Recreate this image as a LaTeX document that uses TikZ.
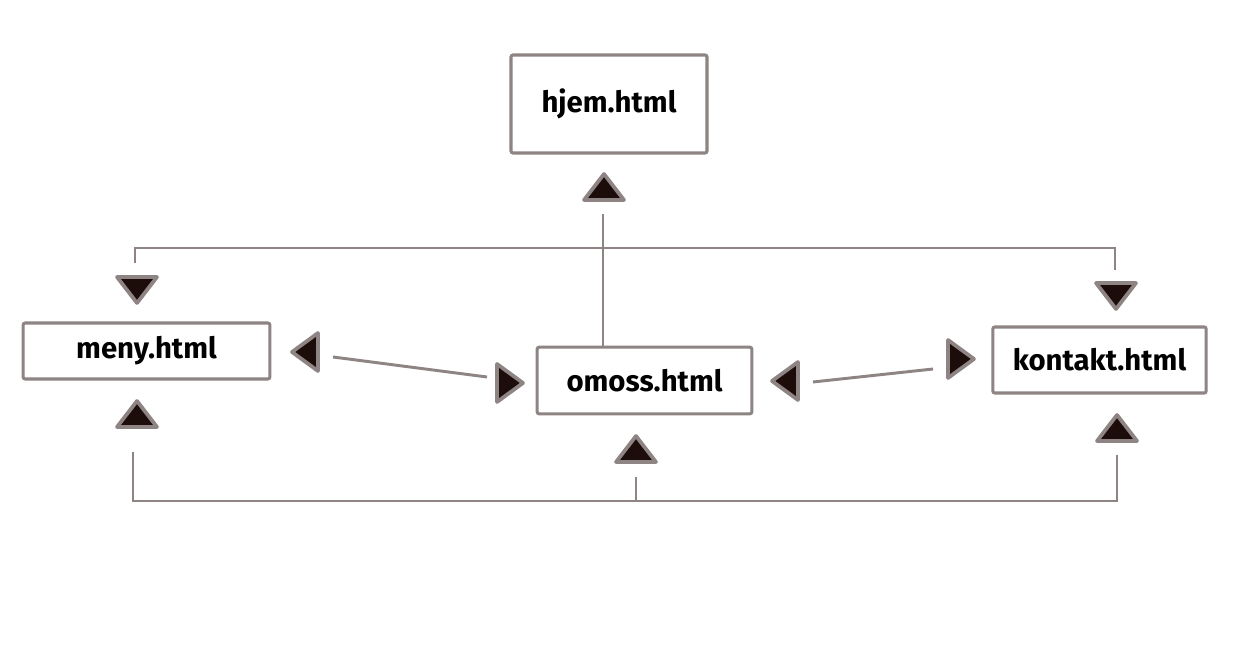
\documentclass[tikz,border=0pt]{standalone}
\usepackage{fontspec}
\setmainfont{Fira Sans}
\definecolor{edge}{HTML}{8E8484}
\definecolor{tipfill}{HTML}{1C0C0A}
\tikzset{
  filebox/.style={draw=edge, line width=2.3pt, rounded corners=1.5pt, fill=white, inner sep=0pt,
    font=\fontsize{22}{26}\selectfont\bfseries},
  wire/.style={draw=edge, line width=2.2pt},
  tri/.style={draw=edge, fill=tipfill, line width=2.8pt, line join=round},
  uptri/.pic={\path[tri] (-20,13) -- (0,-13) -- (20,13) -- cycle;},
  downtri/.pic={\path[tri] (-20,-13) -- (0,13) -- (20,-13) -- cycle;},
  lefttri/.pic={\path[tri] (13,-19) -- (-13,0) -- (13,19) -- cycle;},
  righttri/.pic={\path[tri] (-13,-19) -- (13,0) -- (-13,19) -- cycle;},
}
\begin{document}
\begin{tikzpicture}[x=0.75pt,y=-0.75pt]
\path[use as bounding box, fill=white] (0,0) rectangle (1247,648);
% boxes (sizes in pt = px * 0.75)
\node[filebox, minimum width=147pt, minimum height=73.5pt] (hjem) at (609,104) {hjem.html};
\node[filebox, minimum width=185pt, minimum height=42pt] (meny) at (146.5,351) {meny.html};
\node[filebox, minimum width=161pt, minimum height=50pt] (omoss) at (644.5,380.5) {omoss.html};
\node[filebox, minimum width=160pt, minimum height=49.5pt] (kontakt) at (1099.5,360) {kontakt.html};
% arrowheads
\pic at (604,187) {uptri};
\pic at (137,290) {downtri};
\pic at (1116,296) {downtri};
\pic at (137,414) {uptri};
\pic at (636,449) {uptri};
\pic at (1117,428) {uptri};
\pic at (305,352) {lefttri};
\pic at (510,383) {righttri};
\pic at (785,381) {lefttri};
\pic at (961,359) {righttri};
% connector end points
\coordinate (hA) at (603,214);
\coordinate (mT) at (135,263);
\coordinate (kT) at (1115,270);
\coordinate (mB) at (133,452);
\coordinate (oB) at (636,477);
\coordinate (kB) at (1117,455);
\coordinate (bL) at (133,501);
\coordinate (bR) at (1117,501);
\coordinate (m1) at (333,357);
\coordinate (o1) at (487,377);
\coordinate (o2) at (813,382);
\coordinate (k1) at (933,369);
% connectors
\draw[wire] (hA) -- (hA |- omoss.north);
\draw[wire] (mT) |- (603,248) -| (kT);
\draw[wire] (mB) -- (bL) -- (bR) -- (kB);
\draw[wire] (oB) -- (oB |- bL);
\draw[wire] (m1) -- (o1);
\draw[wire] (o2) -- (k1);
\end{tikzpicture}
\end{document}
